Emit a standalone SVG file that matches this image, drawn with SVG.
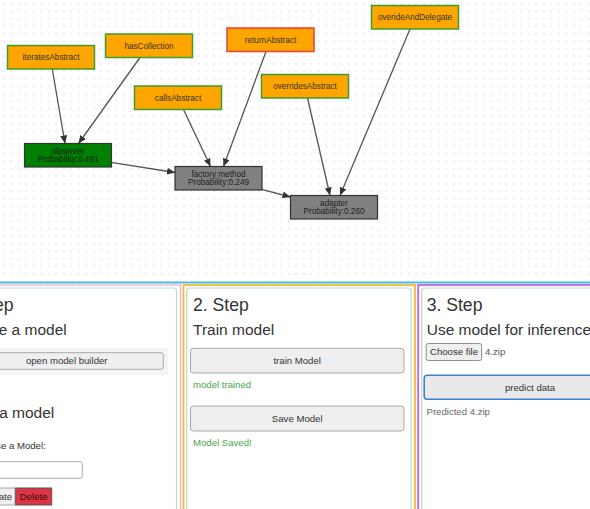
<svg xmlns="http://www.w3.org/2000/svg" width="590" height="509" viewBox="0 0 590 509">
<style>
text{font-family:"Liberation Sans",Arial,sans-serif;}
.lbl{font-size:8.2px;fill:#333;text-anchor:middle;}
.on{fill:#FFA500;stroke:#3c9c2c;stroke-width:1.5;}
.red{stroke:#e8403a;}
.gn{stroke:#333;stroke-width:1.2;}
.edge{stroke:#555;stroke-width:1.3;fill:none;marker-end:url(#ah);}
.h2{font-size:17.6px;fill:#333;}
.h3{font-size:15.5px;fill:#333;}
.sm{font-size:9.6px;fill:#333;}
.ok{font-size:9.6px;fill:#45a845;}
.btn{fill:#efefef;stroke:#a9a9a9;stroke-width:1;}
.inner{fill:none;stroke:#b7dcc9;stroke-width:1.2;}
</style>
<defs>
<pattern id="dots" width="7.5" height="7.5" patternUnits="userSpaceOnUse">
<circle cx="3.75" cy="3.75" r="0.65" fill="#c8c8c8"/>
</pattern>
<marker id="ah" markerWidth="9" markerHeight="7" refX="8" refY="3.5" orient="auto" markerUnits="userSpaceOnUse">
<path d="M0,0 L8,3.5 L0,7 Z" fill="#333"/>
</marker>
</defs>
<rect x="0" y="0" width="590" height="509" fill="#fff"/>
<rect x="0" y="0" width="590" height="281" fill="url(#dots)"/>

<g id="connectors">
<line class="edge" x1="52.3" y1="69" x2="65" y2="143.5"/>
<line class="edge" x1="140" y1="57.5" x2="78.5" y2="143.5"/>
<line class="edge" x1="183.5" y1="109.5" x2="210.5" y2="166.5"/>
<line class="edge" x1="266" y1="51.5" x2="223.5" y2="166.5"/>
<line class="edge" x1="307.5" y1="98" x2="330" y2="195.5"/>
<line class="edge" x1="410" y1="29" x2="340" y2="195.5"/>
<line class="edge" x1="111" y1="162.3" x2="175" y2="172.5"/>
<line class="edge" x1="261.7" y1="189.3" x2="290.5" y2="197"/>
</g>

<g id="iteratesAbstract"><rect class="on" x="7.5" y="45.5" width="87" height="23.5"/><text class="lbl" x="51" y="60.2">iteratesAbstract</text></g>
<g id="hasCollection"><rect class="on" x="105.5" y="34" width="87" height="23.5"/><text class="lbl" x="149" y="48.7">hasCollection</text></g>
<g id="callsAbstract"><rect class="on" x="134.5" y="86" width="87" height="23.5"/><text class="lbl" x="178" y="100.7">callsAbstract</text></g>
<g id="returnAbstract"><rect class="on red" x="227" y="28" width="87" height="23.5"/><text class="lbl" x="270.5" y="42.7">returnAbstract</text></g>
<g id="overridesAbstract"><rect class="on" x="261.5" y="74.5" width="87" height="23.5"/><text class="lbl" x="305" y="89.2">overridesAbstract</text></g>
<g id="overideAndDelegate"><rect class="on" x="371.5" y="5.5" width="87" height="23.5"/><text class="lbl" x="415" y="20.2">overideAndDelegate</text></g>

<g id="observer"><rect class="gn" fill="#008000" x="24.5" y="143.5" width="87" height="23.5"/><text class="lbl" style="fill:#1a1a1a" x="68" y="154">observer</text><text class="lbl" style="fill:#1a1a1a" x="68" y="162">Probability:0.491</text></g>
<g id="factory-method"><rect class="gn" fill="#808080" x="175" y="166.5" width="87" height="23.5"/><text class="lbl" style="fill:#222" x="218.5" y="177">factory method</text><text class="lbl" style="fill:#222" x="218.5" y="185">Probability:0.249</text></g>
<g id="adapter"><rect class="gn" fill="#808080" x="290.5" y="195.5" width="87" height="23.5"/><text class="lbl" style="fill:#222" x="334" y="206">adapter</text><text class="lbl" style="fill:#222" x="334" y="214">Probability:0.260</text></g>

<rect x="-5" y="281.5" width="600" height="2" fill="#45bde6"/>

<g id="panel1">
<rect x="-10" y="285" width="190.5" height="240" fill="none" stroke="#f5b6c8" stroke-width="1.5"/>
<rect class="inner" x="-10" y="288" width="186.5" height="240" rx="3"/>
<text class="h2" x="13.5" y="310.5" text-anchor="end">ep</text>
<text class="h3" x="66.7" y="334.5" text-anchor="end">e a model</text>
<rect x="-5" y="347.7" width="173" height="27.3" fill="#f4f4f4"/>
<rect class="btn" x="-20" y="352.7" width="183.3" height="16.6" rx="2"/>
<text class="sm" x="66.7" y="364" text-anchor="middle">open model builder</text>
<text class="h3" x="54.3" y="418" text-anchor="end">a model</text>
<text class="sm" x="45.7" y="449" text-anchor="end">se a Model:</text>
<rect x="-20" y="461.7" width="102.3" height="16.6" rx="2" fill="#fff" stroke="#aaa"/>
<rect class="btn" x="-20" y="488" width="35" height="17"/>
<text class="sm" x="12" y="500" text-anchor="end">ate</text>
<rect x="15.7" y="488" width="36" height="17" fill="#dc3545" stroke="#555"/>
<text class="sm" style="fill:#3a0505" x="33.7" y="500" text-anchor="middle">Delete</text>
</g>

<g id="panel2">
<rect x="183.5" y="285" width="231.5" height="240" fill="none" stroke="#ffb530" stroke-width="1.8"/>
<rect class="inner" x="186.7" y="288" width="224.3" height="240" rx="3"/>
<text class="h2" x="193" y="310.7">2. Step</text>
<text class="h3" x="193" y="335">Train model</text>
<rect class="btn" x="190.5" y="348.3" width="213.5" height="24.7" rx="3"/>
<text class="sm" x="297.2" y="364" text-anchor="middle">train Model</text>
<text class="ok" x="193" y="388">model trained</text>
<rect class="btn" x="190.5" y="406" width="213.5" height="25" rx="3"/>
<text class="sm" x="297.2" y="421.7" text-anchor="middle">Save Model</text>
<text class="ok" x="193" y="446">Model Saved!</text>
</g>

<g id="panel3">
<rect x="418.2" y="285" width="200" height="240" fill="none" stroke="#c561e6" stroke-width="1.8"/>
<rect class="inner" x="421.7" y="288" width="200" height="240" rx="3"/>
<text class="h2" x="426.7" y="310.7">3. Step</text>
<text class="h3" x="426.7" y="335">Use model for inference</text>
<rect x="426.2" y="343.5" width="55.5" height="17" rx="2" fill="#efefef" stroke="#8f8f8f"/>
<text class="sm" x="454" y="355.3" text-anchor="middle">Choose file</text>
<text class="sm" style="fill:#555" x="485" y="355.3">4.zip</text>
<rect x="424.2" y="375.2" width="220" height="24" rx="3" fill="#e9e9e9" stroke="#3b82d8" stroke-width="1.6"/>
<text class="sm" x="530" y="390.5" text-anchor="middle">predict data</text>
<text class="sm" style="fill:#666" x="426.5" y="415">Predicted 4.zip</text>
</g>
</svg>
